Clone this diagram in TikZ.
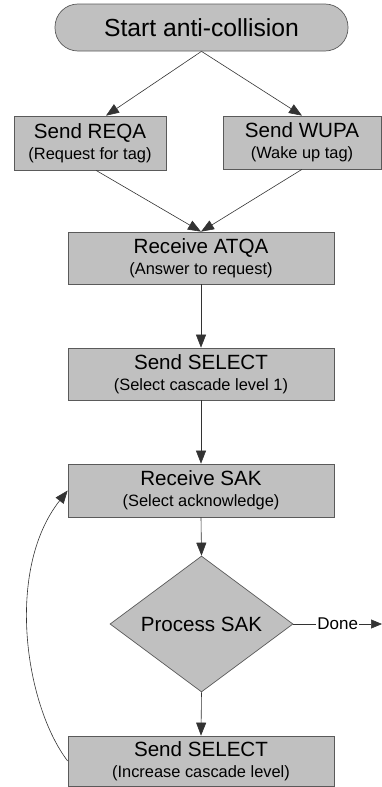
\documentclass[tikz,border=0pt]{standalone}
\usepackage{fontspec}
\setmainfont{Liberation Sans}
\usetikzlibrary{arrows.meta,shapes.geometric}
\definecolor{boxgray}{RGB}{192,192,192}
\definecolor{edgegray}{RGB}{90,90,90}
\newcommand{\ttl}[1]{{\fontsize{20.6}{21}\selectfont #1}}
\newcommand{\sub}[1]{{\fontsize{16.4}{21}\selectfont #1}}
\begin{document}
\begin{tikzpicture}[x=1pt,y=1pt,
  box/.style={draw=edgegray,fill=boxgray,line width=0.7pt,inner sep=0pt,align=center,
    minimum height=#1,font=\fontsize{16.4}{21}\selectfont},
  box/.default=52pt,
  link/.style={draw=black!80,line width=0.6pt,-{Triangle[length=13pt,width=10pt]}},
  ]
\useasboundingbox (0,0) rectangle (382,-787);
\node[box=47pt,minimum width=293pt,rounded corners=23pt] (start) at (201.5,-27.5)
  {\fontsize{24.7}{26}\selectfont Start anti-collision};
\node[box=54pt,minimum width=152pt] (reqa) at (90,-143)
  {\ttl{Send REQA}\\\sub{(Request for tag)}};
\node[box=53pt,minimum width=158pt] (wupa) at (302,-142.5)
  {\ttl{Send WUPA}\\\sub{(Wake up tag)}};
\node[box=52pt,minimum width=266pt] (atqa) at (201,-258)
  {\ttl{Receive ATQA}\\\sub{(Answer to request)}};
\node[box=52pt,minimum width=266pt] (sel1) at (201,-374)
  {\ttl{Send SELECT}\\\sub{(Select cascade level 1)}};
\node[box=53pt,minimum width=266pt] (sak) at (201,-490.5)
  {\ttl{Receive SAK}\\\sub{(Select acknowledge)}};
\node[draw=edgegray,fill=boxgray,line width=0.7pt,diamond,inner sep=0pt,
  minimum width=183pt,minimum height=108pt] (proc) at (201.5,-624)
  {\ttl{Process SAK}};
\node[box=50pt,minimum width=266pt] (sel2) at (201,-761)
  {\ttl{Send SELECT}\\\sub{(Increase cascade level)}};
\coordinate (doneend) at (382,-624);

\draw[link] (start.south) -- ([xshift=16pt]reqa.north);
\draw[link] (start.south) -- (wupa.north);
\draw[link] ([xshift=6pt]reqa.south) -- (atqa.north);
\draw[link] (wupa.south) -- (atqa.north);
\draw[link] (atqa.south) -- (sel1.north);
\draw[link] (sel1.south) -- (sak.north);
\draw[link] (sak.south) -- (proc.north);
\draw[link] (proc.south) -- (sel2.north);
\draw[draw=black!80,line width=0.6pt,-{Triangle[length=11pt,width=9pt]}] (proc.east) --
  node[fill=white,inner sep=1pt,font=\fontsize{17}{18}\selectfont] (done) {Done} (doneend);
\draw[link] (sel2.west) .. controls (25,-705) and (5,-570) .. (sak.west);
\end{tikzpicture}
\end{document}
